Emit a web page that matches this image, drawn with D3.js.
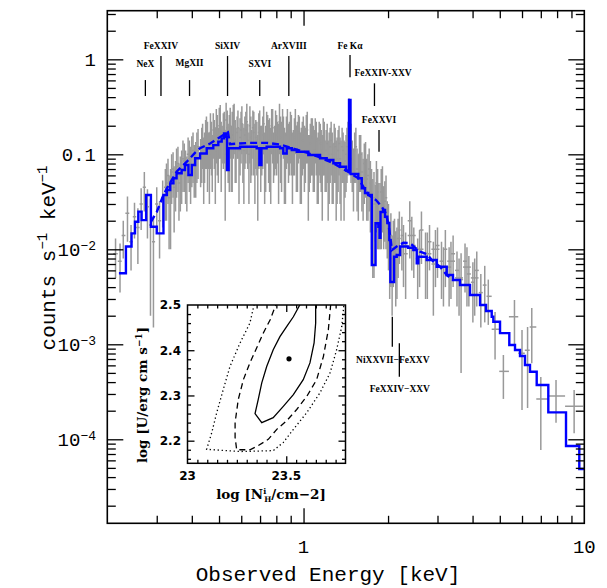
<!DOCTYPE html>
<html lang="en">
<head>
<meta charset="UTF-8">
<title>Observed X-ray spectrum</title>
<script src="https://d3js.org/d3.v7.min.js"></script>
<style>
  body { margin: 0; background: #fff; }
  .data line { stroke: #999; stroke-width: 1.5px; }
  .axis line { stroke: #000; stroke-width: 1.3px; }
  .big { font-family: "Liberation Mono", monospace; fill: #000; }
  .mark { font-family: "Liberation Serif", serif; font-weight: bold; font-size: 9.5px; }
  .inset-num { font-family: "DejaVu Sans", sans-serif; font-weight: bold; font-size: 12px; }
  .inset-lab { font-family: "DejaVu Serif", serif; font-weight: bold; font-size: 13.5px; }
</style>
</head>
<body>
<svg width="607" height="588"></svg>
<script>
// ---- main spectrum ----
const xDomain = [0.2, 10];
const yDomain = [1.305e-5, 3.25];

// best-fit model (solid), bin start energies [keV] and counts s^-1 keV^-1
const modelE = [0.220, 0.233, 0.244, 0.251, 0.258, 0.265, 0.275, 0.286, 0.300, 0.317,
  0.326, 0.335, 0.344, 0.353, 0.368, 0.378, 0.389, 0.400, 0.411, 0.428,
  0.452, 0.477, 0.497, 0.511, 0.521, 0.530, 0.534, 0.541, 0.594, 0.681,
  0.696, 0.708, 0.739, 0.825, 0.847, 0.871, 0.908, 0.946, 1.040, 1.145,
  1.209, 1.277, 1.349, 1.417, 1.452, 1.470, 1.567, 1.612, 1.656, 1.701,
  1.750, 1.805, 1.847, 1.865, 1.880, 1.919, 1.951, 1.988, 2.021, 2.038,
  2.101, 2.147, 2.207, 2.356, 2.460, 2.530, 2.563, 2.746, 2.981, 3.236,
  3.407, 3.608, 3.917, 4.253, 4.467, 4.680, 4.742, 5.010, 5.406, 5.665,
  5.902, 6.148, 6.406, 6.768, 7.444, 8.607, 9.598];
const modelC = [0.0056, 0.0107, 0.0147, 0.0195, 0.0249, 0.0203, 0.0373, 0.0173, 0.0147, 0.0373,
  0.0421, 0.0495, 0.0559, 0.0631, 0.0684, 0.0772, 0.0606, 0.0772, 0.0908, 0.102,
  0.116, 0.125, 0.136, 0.147, 0.166, 0.153, 0.0684, 0.116, 0.120, 0.116,
  0.0772, 0.116, 0.120, 0.116, 0.102, 0.116, 0.111, 0.1065, 0.0983, 0.0908,
  0.0871, 0.0804, 0.0741, 0.0675, 0.373, 0.0620, 0.0559, 0.0439, 0.0391, 0.0373,
  0.00684, 0.0188, 0.0173, 0.0132, 0.0247, 0.0259, 0.0220, 0.0189, 0.0125, 0.00453,
  0.00836, 0.00871, 0.0107, 0.0104, 0.00983, 0.00712, 0.00836, 0.00772, 0.00656, 0.00536,
  0.00475, 0.00421, 0.00330, 0.00259, 0.00224, 0.00195, 0.00173, 0.00131, 0.000983, 0.000871,
  0.000753, 0.000606, 0.000515, 0.000373, 0.000192, 0.0000850, 0.0000487];

// alternative model (dashed)
const dashE = [0.286, 0.300, 0.317, 0.326, 0.353, 0.384, 0.394, 0.411, 0.428, 0.465,
  0.497, 0.518, 0.538, 0.547, 0.645, 0.739, 0.825, 0.920, 1.027, 1.145,
  1.277, 1.417, 1.567, 1.701, 1.812, 1.898, 1.951, 2.004, 2.066, 2.147,
  2.267, 2.394, 2.600, 2.746, 2.900, 3.063, 3.236, 3.407];
const dashC = [0.0194, 0.0247, 0.0373, 0.0439, 0.0656, 0.0836, 0.0908, 0.104, 0.116, 0.130,
  0.148, 0.160, 0.170, 0.128, 0.132, 0.132, 0.127, 0.115, 0.104, 0.0930,
  0.0804, 0.0675, 0.0559, 0.0373, 0.0330, 0.0281, 0.0249, 0.0189, 0.00983, 0.0107,
  0.0117, 0.0116, 0.00943, 0.00892, 0.00741, 0.00656, 0.00536, 0.00475];

// first data set: energy, value, 1-sigma error
const dataE = [
  0.214, 0.222, 0.228, 0.236, 0.243, 0.250, 0.257, 0.264, 0.271, 0.278, 0.285, 0.292, 0.300, 0.307, 0.315,
  0.322, 0.329, 0.336, 0.343, 0.350, 0.357, 0.364, 0.372, 0.380, 0.388, 0.396, 0.404, 0.413, 0.421,
  0.430, 0.437, 0.444, 0.451, 0.458, 0.466, 0.473, 0.481, 0.489, 0.497,
  0.505, 0.513, 0.522, 0.530, 0.539, 0.548, 0.557, 0.566, 0.575, 0.584,
  0.594, 0.603, 0.613, 0.623, 0.633, 0.644, 0.654, 0.665, 0.676, 0.687,
  0.698, 0.710, 0.721, 0.733, 0.745, 0.757, 0.770, 0.782, 0.795, 0.808,
  0.821, 0.835, 0.848, 0.862, 0.876, 0.891, 0.905, 0.920, 0.935, 0.951,
  0.966, 0.982, 0.998, 1.015, 1.031, 1.048, 1.066, 1.083, 1.101, 1.119,
  1.137, 1.156, 1.175, 1.194, 1.214, 1.234, 1.254, 1.275, 1.296, 1.317,
  1.338, 1.360, 1.383, 1.405, 1.428, 1.452,
  1.476, 1.506, 1.536, 1.567, 1.598, 1.630, 1.663, 1.696, 1.730, 1.765, 1.800,
  1.836, 1.873, 1.910, 1.948, 1.987, 2.027, 2.068, 2.109, 2.151, 2.194,
  2.24, 2.31, 2.39, 2.47, 2.55, 2.63, 2.72, 2.81, 2.90, 3.00, 3.10,
  3.20, 3.30, 3.41, 3.52, 3.64, 3.76, 3.88, 4.01, 4.14, 4.28, 4.42,
  4.55, 4.81, 5.15, 5.64, 6.00, 6.28, 6.50, 7.00, 7.93, 9.20];
const dataC = [
  0.009, 0.0075, 0.014, 0.024, 0.012, 0.022, 0.017, 0.030, 0.045, 0.028, 0.018, 0.012, 0.030, 0.020, 0.035,
  0.045, 0.060, 0.040, 0.070, 0.055, 0.080, 0.060, 0.090, 0.070, 0.100, 0.075, 0.110, 0.085, 0.120,
  0.095, 0.14, 0.11, 0.16, 0.12, 0.17, 0.10, 0.15, 0.19, 0.12,
  0.21, 0.14, 0.18, 0.23, 0.13, 0.20, 0.16, 0.22, 0.12, 0.19,
  0.15, 0.21, 0.11, 0.18, 0.14, 0.20, 0.12, 0.17, 0.15, 0.09,
  0.19, 0.13, 0.21, 0.12, 0.17, 0.14, 0.20, 0.11, 0.18, 0.15,
  0.22, 0.13, 0.17, 0.10, 0.19, 0.14, 0.16, 0.12, 0.20, 0.13,
  0.17, 0.11, 0.16, 0.12, 0.18, 0.10, 0.15, 0.12, 0.16, 0.09,
  0.14, 0.11, 0.15, 0.09, 0.13, 0.10, 0.14, 0.08, 0.12, 0.09,
  0.13, 0.08, 0.11, 0.085, 0.12, 0.26,
  0.13, 0.07, 0.12, 0.06, 0.10, 0.055, 0.085, 0.06, 0.05, 0.03, 0.03,
  0.04, 0.03, 0.045, 0.032, 0.02, 0.011, 0.008, 0.013, 0.010, 0.016,
  0.014, 0.009, 0.020, 0.011, 0.008, 0.016, 0.009, 0.012, 0.007, 0.011, 0.0075,
  0.010, 0.0065, 0.009, 0.006, 0.0048, 0.0075, 0.0055, 0.0045, 0.006, 0.0035, 0.0042,
  0.0032, 0.00144, 0.000519, 0.00195, 0.000807, 0.000867, 0.00152, 0.000265, 0.000285, 0.000223];
const dataErr = [
  0.004, 0.004, 0.006, 0.012, 0.006, 0.009, 0.010, 0.014, 0.020, 0.015, 0.016, 0.0105, 0.015, 0.012, 0.018,
  0.025, 0.030, 0.030, 0.035, 0.030, 0.040, 0.035, 0.050, 0.040, 0.050, 0.045, 0.060, 0.050, 0.065,
  0.05, 0.07, 0.06, 0.09, 0.05, 0.10, 0.06, 0.08, 0.11, 0.07,
  0.12, 0.06, 0.10, 0.12, 0.08, 0.11, 0.12, 0.12, 0.07, 0.10,
  0.09, 0.11, 0.08, 0.10, 0.07, 0.12, 0.06, 0.11, 0.08, 0.07,
  0.10, 0.07, 0.11, 0.08, 0.09, 0.10, 0.10, 0.06, 0.11, 0.07,
  0.12, 0.09, 0.08, 0.07, 0.11, 0.08, 0.10, 0.06, 0.10, 0.09,
  0.08, 0.08, 0.09, 0.07, 0.10, 0.06, 0.09, 0.08, 0.08, 0.06,
  0.08, 0.07, 0.09, 0.05, 0.08, 0.07, 0.08, 0.05, 0.07, 0.06,
  0.07, 0.06, 0.06, 0.05, 0.07, 0.13,
  0.08, 0.045, 0.07, 0.04, 0.06, 0.035, 0.05, 0.04, 0.035, 0.025, 0.018,
  0.03, 0.02, 0.03, 0.02, 0.012, 0.008, 0.006, 0.008, 0.007, 0.009,
  0.008, 0.006, 0.012, 0.006, 0.005, 0.009, 0.006, 0.006, 0.005, 0.006, 0.0045,
  0.006, 0.004, 0.005, 0.0035, 0.0043, 0.004, 0.003, 0.0028, 0.0035, 0.002, 0.0025,
  0.0016, 0.00075, 0.000253, 0.00097, 0.000604, 0.000654, 0.00089, 0.000188, 0.000136, 0.000107];

// second data set (interleaved bins)
const data2E = [
  0.325, 0.332, 0.339, 0.346, 0.353, 0.360, 0.368, 0.376, 0.384, 0.392, 0.400, 0.408, 0.417,
  0.434, 0.441, 0.448, 0.455, 0.462, 0.470, 0.477, 0.485, 0.493, 0.501,
  0.509, 0.518, 0.526, 0.535, 0.544, 0.553, 0.562, 0.571, 0.580, 0.589,
  0.599, 0.608, 0.618, 0.628, 0.639, 0.649, 0.660, 0.671, 0.682, 0.693,
  0.704, 0.716, 0.727, 0.739, 0.751, 0.764, 0.776, 0.789, 0.802, 0.815,
  0.828, 0.842, 0.855, 0.869, 0.884, 0.898, 0.913, 0.928, 0.943, 0.959,
  0.974, 0.990, 1.007, 1.023, 1.040, 1.057, 1.075, 1.092, 1.110, 1.128,
  1.147, 1.166, 1.185, 1.204, 1.224, 1.244, 1.265, 1.286, 1.307, 1.328,
  1.349, 1.372, 1.394, 1.417, 1.440,
  1.491, 1.521, 1.551, 1.582, 1.614, 1.646, 1.679, 1.713, 1.747, 1.782,
  1.818, 1.854, 1.891, 1.929, 1.967, 2.007, 2.047, 2.088, 2.130, 2.172,
  2.27, 2.43, 2.59, 2.76, 2.95, 3.15, 3.35, 3.58, 3.82, 4.07];
const data2C = [
  0.05, 0.035, 0.065, 0.045, 0.075, 0.05, 0.07, 0.085, 0.06, 0.09, 0.10, 0.08, 0.11,
  0.12, 0.09, 0.15, 0.13, 0.10, 0.14, 0.18, 0.11, 0.16, 0.20,
  0.13, 0.17, 0.10, 0.19, 0.15, 0.12, 0.21, 0.14, 0.17, 0.11,
  0.18, 0.13, 0.16, 0.22, 0.10, 0.15, 0.19, 0.12, 0.14, 0.17,
  0.12, 0.16, 0.10, 0.18, 0.14, 0.11, 0.19, 0.13, 0.16, 0.12,
  0.15, 0.20, 0.11, 0.16, 0.13, 0.18, 0.10, 0.15, 0.12, 0.17,
  0.10, 0.14, 0.12, 0.17, 0.09, 0.13, 0.15, 0.11, 0.14, 0.10,
  0.13, 0.09, 0.14, 0.11, 0.08, 0.12, 0.10, 0.13, 0.08, 0.11,
  0.09, 0.12, 0.08, 0.10, 0.14,
  0.09, 0.11, 0.07, 0.10, 0.065, 0.08, 0.055, 0.07, 0.04, 0.035,
  0.05, 0.03, 0.04, 0.028, 0.035, 0.018, 0.014, 0.012, 0.009, 0.013,
  0.011, 0.014, 0.010, 0.009, 0.010, 0.0065, 0.0075, 0.005, 0.0065, 0.005];
const data2Err = [
  0.03, 0.025, 0.035, 0.03, 0.04, 0.03, 0.04, 0.045, 0.035, 0.05, 0.055, 0.045, 0.06,
  0.07, 0.06, 0.08, 0.09, 0.07, 0.08, 0.09, 0.08, 0.10, 0.11,
  0.09, 0.10, 0.08, 0.10, 0.11, 0.08, 0.12, 0.09, 0.08, 0.08,
  0.10, 0.08, 0.09, 0.12, 0.07, 0.10, 0.10, 0.09, 0.08, 0.10,
  0.08, 0.09, 0.07, 0.10, 0.09, 0.08, 0.11, 0.07, 0.10, 0.09,
  0.10, 0.10, 0.08, 0.09, 0.08, 0.10, 0.07, 0.09, 0.08, 0.09,
  0.07, 0.08, 0.08, 0.09, 0.07, 0.08, 0.09, 0.07, 0.08, 0.07,
  0.08, 0.07, 0.08, 0.07, 0.06, 0.07, 0.07, 0.08, 0.06, 0.07,
  0.06, 0.07, 0.06, 0.06, 0.08,
  0.05, 0.06, 0.045, 0.06, 0.04, 0.05, 0.035, 0.045, 0.03, 0.03,
  0.035, 0.02, 0.03, 0.018, 0.025, 0.012, 0.01, 0.008, 0.0065, 0.008,
  0.007, 0.008, 0.006, 0.006, 0.006, 0.004, 0.0045, 0.003, 0.004, 0.003];

// identified lines
const lineNames = ["NeX", "FeXXIV", "MgXII", "SiXIV", "SXVI", "ArXVIII", "Fe K\u03b1",
  "FeXXIV-XXV", "FeXXVI", "NiXXVII\u2212FeXXV", "FeXXIV\u2212XXV"];
const lineE = [0.2733, 0.3106, 0.3926, 0.5362, 0.6982, 0.8863, 1.464, 1.789, 1.857, 2.071, 2.194];

const xTickVals = [1, 10];
const xTickText = ["1", "10"];
const yTickVals = [1, 0.1, 1e-2, 1e-3, 1e-4];
const yTickBase = ["1", "0.1", "10", "10", "10"];
const yTickExp = ["", "", "\u22122", "\u22123", "\u22124"];

// ---- inset: confidence contours ----
const c1NH = [23.581, 23.536, 23.502, 23.468, 23.434, 23.401, 23.376, 23.358, 23.342, 23.376, 23.434, 23.485, 23.536, 23.586, 23.620, 23.641, 23.649, 23.649];
const c1U  = [2.510, 2.474, 2.452, 2.430, 2.401, 2.364, 2.328, 2.291, 2.260, 2.240, 2.251, 2.276, 2.302, 2.335, 2.372, 2.416, 2.460, 2.510];
const c2NH = [23.456, 23.418, 23.384, 23.350, 23.316, 23.283, 23.257, 23.241, 23.241, 23.249, 23.316, 23.358, 23.409, 23.452, 23.502, 23.553, 23.604, 23.654, 23.688, 23.713, 23.727];
const c2U  = [2.510, 2.467, 2.438, 2.405, 2.372, 2.335, 2.291, 2.240, 2.207, 2.180, 2.180, 2.189, 2.203, 2.225, 2.244, 2.269, 2.298, 2.335, 2.386, 2.445, 2.510];
const c3NH = [23.342, 23.316, 23.266, 23.215, 23.181, 23.148, 23.123, 23.097, 23.266, 23.434, 23.485, 23.536, 23.604, 23.671, 23.722, 23.755, 23.781, 23.794];
const c3U  = [2.510, 2.460, 2.416, 2.364, 2.313, 2.262, 2.218, 2.181, 2.176, 2.178, 2.196, 2.225, 2.262, 2.306, 2.350, 2.401, 2.452, 2.510];
const bestFit = [23.514, 2.381];
const insetXDomain = [23, 23.8];
const insetYDomain = [2.15, 2.5];
const insetXTicks = [23, 23.5];
const insetYTicks = [2.2, 2.3, 2.4, 2.5];

// ---- layout ----
const F = { left: 107.3, right: 584.3, top: 10.7, bottom: 523.3 };
const I = { left: 187.5, right: 345.5, top: 305, bottom: 463.3 };
// label centre / marker ends in count units, label shift in px
const markLayout = [
  { lab: 0.892, top: 0.605, bot: 0.411, dx: 0 },
  { lab: 1.39, top: 1.083, bot: 0.411, dx: 0 },
  { lab: 0.92, top: 0.605, bot: 0.411, dx: 0 },
  { lab: 1.39, top: 1.083, bot: 0.411, dx: 0 },
  { lab: 0.892, top: 0.605, bot: 0.411, dx: 0 },
  { lab: 1.39, top: 1.083, bot: 0.411, dx: 0 },
  { lab: 1.39, top: 1.11, bot: 0.646, dx: 0 },
  { lab: 0.723, top: 0.559, bot: 0.3224, dx: 8.6 },
  { lab: 0.2297, top: 0.180, bot: 0.1065, dx: 0 },
  { lab: 6.84e-4, top: 1.952e-3, bot: 9.43e-4, dx: 0.5 },
  { lab: 3.44e-4, top: 1.024e-3, bot: 4.56e-4, dx: 0.5 }
];

const svg = d3.select("svg");
const x = d3.scaleLog().domain(xDomain).range([F.left, F.right]);
const y = d3.scaleLog().domain(yDomain).range([F.bottom, F.top]);

const defs = svg.append("defs");
defs.append("clipPath").attr("id", "plotClip").append("rect")
  .attr("x", F.left).attr("y", F.top).attr("width", F.right - F.left).attr("height", F.bottom - F.top);
defs.append("clipPath").attr("id", "insetClip").append("rect")
  .attr("x", I.left).attr("y", I.top).attr("width", I.right - I.left).attr("height", I.bottom - I.top);

const plot = svg.append("g").attr("clip-path", "url(#plotClip)");

// error bars
function drawSet(E, C, Err) {
  const pts = E.map((e, i) => ({ E: e, c: C[i], err: Err[i] }));
  pts.forEach((d, i) => {
    const prev = i > 0 ? pts[i - 1].E : d.E * d.E / pts[i + 1].E;
    const next = i < pts.length - 1 ? pts[i + 1].E : d.E * d.E / pts[i - 1].E;
    d.lo = Math.sqrt(prev * d.E);
    d.hi = Math.sqrt(d.E * next);
  });
  const g = plot.append("g").attr("class", "data");
  g.selectAll("line.v").data(pts).join("line").attr("class", "v")
    .attr("x1", d => x(d.E)).attr("x2", d => x(d.E))
    .attr("y1", d => y(d.c + d.err))
    .attr("y2", d => y(Math.max(d.c - d.err, yDomain[0])));
  g.selectAll("line.h").data(pts).join("line").attr("class", "h")
    .attr("x1", d => x(d.lo)).attr("x2", d => x(d.hi))
    .attr("y1", d => y(d.c)).attr("y2", d => y(d.c));
}
drawSet(dataE, dataC, dataErr);
drawSet(data2E, data2C, data2Err);

// models
const model = modelE.map((e, i) => ({ E: e, c: modelC[i] }));
model.push({ E: xDomain[1], c: modelC[modelC.length - 1] });
const dash = dashE.map((e, i) => ({ E: e, c: dashC[i] }));

plot.append("path").datum(dash)
  .attr("d", d3.line().x(d => x(d.E)).y(d => y(d.c)))
  .attr("fill", "none").attr("stroke", "#0000ff").attr("stroke-width", 2.4)
  .attr("stroke-dasharray", "7,4");
plot.append("path").datum(model)
  .attr("d", d3.line().x(d => x(d.E)).y(d => y(d.c)).curve(d3.curveStepAfter))
  .attr("fill", "none").attr("stroke", "#0000ff").attr("stroke-width", 2.4);

// line identifications
const marks = lineNames.map((n, i) => Object.assign({ name: n, E: lineE[i] }, markLayout[i]));
const mg = svg.append("g");
mg.selectAll("line").data(marks).join("line")
  .attr("x1", d => x(d.E)).attr("x2", d => x(d.E))
  .attr("y1", d => y(d.top)).attr("y2", d => y(d.bot))
  .attr("stroke", "#000").attr("stroke-width", 1.3);
mg.selectAll("text").data(marks).join("text")
  .attr("class", "mark")
  .attr("x", d => x(d.E) + d.dx).attr("y", d => y(d.lab))
  .attr("dy", "0.35em").attr("text-anchor", "middle")
  .text(d => d.name);

// ticks
function logMinors(dom) {
  const out = [];
  for (let k = Math.floor(Math.log10(dom[0])); k <= Math.ceil(Math.log10(dom[1])); k++) {
    for (let m = 2; m <= 9; m++) {
      const v = m * Math.pow(10, k);
      if (v > dom[0] && v < dom[1]) out.push(v);
    }
  }
  return out;
}
const xMinor = logMinors(xDomain), yMinor = logMinors(yDomain);
const yMajor = yTickVals.filter(v => v > yDomain[0] && v < yDomain[1]);

function ticks(axisFn, scale, vals, len, tx, ty) {
  const g = svg.append("g").attr("class", "axis").attr("transform", `translate(${tx},${ty})`)
    .call(axisFn(scale).tickValues(vals).tickSize(-len).tickFormat(""));
  g.select(".domain").remove();
  return g;
}
ticks(d3.axisBottom, x, xMinor, 7.5, 0, F.bottom);
ticks(d3.axisBottom, x, [1], 15, 0, F.bottom);
ticks(d3.axisTop, x, xMinor, 7.5, 0, F.top);
ticks(d3.axisTop, x, [1], 15, 0, F.top);
ticks(d3.axisLeft, y, yMinor, 8.5, F.left, 0);
ticks(d3.axisLeft, y, yMajor, 16, F.left, 0);
ticks(d3.axisRight, y, yMinor, 8.5, F.right, 0);
ticks(d3.axisRight, y, yMajor, 16, F.right, 0);

svg.append("rect").attr("x", F.left).attr("y", F.top)
  .attr("width", F.right - F.left).attr("height", F.bottom - F.top)
  .attr("fill", "none").attr("stroke", "#000").attr("stroke-width", 1.6);

// tick labels
svg.selectAll("text.xt").data(xTickVals).join("text").attr("class", "big xt")
  .attr("x", d => x(d)).attr("y", 553).attr("text-anchor", "middle")
  .attr("font-size", 19).text((d, i) => xTickText[i]);

const yt = svg.selectAll("text.yt").data(yTickVals).join("text").attr("class", "big yt")
  .attr("x", 96).attr("y", d => y(d)).attr("dy", "0.35em")
  .attr("text-anchor", "end").attr("font-size", 19);
yt.append("tspan").text((d, i) => yTickBase[i]);
yt.append("tspan").attr("dy", "-0.45em").attr("font-size", 13).text((d, i) => yTickExp[i]);

// axis titles
svg.append("text").attr("class", "big").attr("x", 328).attr("y", 581)
  .attr("text-anchor", "middle").attr("font-size", 21).text("Observed Energy [keV]");

const yl = svg.append("text").attr("class", "big")
  .attr("transform", "translate(55,258) rotate(-90)")
  .attr("text-anchor", "middle").attr("font-size", 21);
yl.append("tspan").text("counts s");
yl.append("tspan").attr("dy", -8).attr("font-size", 14).text("\u22121");
yl.append("tspan").attr("dy", 8).text(" keV");
yl.append("tspan").attr("dy", -8).attr("font-size", 14).text("\u22121");

// ---- inset ----
const ix = d3.scaleLinear().domain(insetXDomain).range([I.left, I.right]);
const iy = d3.scaleLinear().domain(insetYDomain).range([I.bottom, I.top]);

svg.append("rect").attr("x", I.left).attr("y", I.top)
  .attr("width", I.right - I.left).attr("height", I.bottom - I.top).attr("fill", "#fff");

const ig = svg.append("g").attr("clip-path", "url(#insetClip)");
const cLine = d3.line().x(d => ix(d[0])).y(d => iy(d[1]));
const contours = [
  { nh: c1NH, u: c1U, dash: null },
  { nh: c2NH, u: c2U, dash: "6,4" },
  { nh: c3NH, u: c3U, dash: "1.3,2.7" }
];
contours.forEach(c => {
  ig.append("path").datum(c.nh.map((v, i) => [v, c.u[i]]))
    .attr("d", cLine).attr("fill", "none").attr("stroke", "#000").attr("stroke-width", 1.3)
    .attr("stroke-dasharray", c.dash);
});
ig.append("circle").attr("cx", ix(bestFit[0])).attr("cy", iy(bestFit[1])).attr("r", 2.6).attr("fill", "#000");

const ixMinor = d3.range(23.05, 23.8, 0.05).filter(v => Math.abs(v - 23.5) > 1e-6);
const iyMinor = d3.range(2.16, 2.5, 0.02).filter(v => Math.abs(v * 10 - Math.round(v * 10)) > 1e-6);
const iyMajor = [2.2, 2.3, 2.4];
ticks(d3.axisBottom, ix, ixMinor, 3.5, 0, I.bottom);
ticks(d3.axisBottom, ix, [23.5], 7, 0, I.bottom);
ticks(d3.axisTop, ix, ixMinor, 3.5, 0, I.top);
ticks(d3.axisTop, ix, [23.5], 7, 0, I.top);
ticks(d3.axisLeft, iy, iyMinor, 3.5, I.left, 0);
ticks(d3.axisLeft, iy, iyMajor, 7, I.left, 0);
ticks(d3.axisRight, iy, iyMinor, 3.5, I.right, 0);
ticks(d3.axisRight, iy, iyMajor, 7, I.right, 0);

svg.append("rect").attr("x", I.left).attr("y", I.top)
  .attr("width", I.right - I.left).attr("height", I.bottom - I.top)
  .attr("fill", "none").attr("stroke", "#000").attr("stroke-width", 1.5);

svg.selectAll("text.ixt").data(insetXTicks).join("text").attr("class", "inset-num ixt")
  .attr("x", d => ix(d)).attr("y", 480).attr("text-anchor", "middle").text(d => d);
svg.selectAll("text.iyt").data(insetYTicks).join("text").attr("class", "inset-num iyt")
  .attr("x", 181).attr("y", d => iy(d)).attr("dy", "0.36em").attr("text-anchor", "end")
  .text(d => d.toFixed(1));

const ixl = svg.append("text").attr("class", "inset-lab")
  .attr("x", 271).attr("y", 499).attr("text-anchor", "middle");
ixl.append("tspan").text("log [N");
ixl.append("tspan").attr("dy", -5).attr("font-size", 8).text("i");
ixl.append("tspan").attr("dx", -2).attr("dy", 8).attr("font-size", 7.5).text("H");
ixl.append("tspan").attr("dy", -3).text("/cm\u22122]");

const iyl = svg.append("text").attr("class", "inset-lab")
  .attr("transform", "translate(147,395) rotate(-90)").attr("text-anchor", "middle");
iyl.append("tspan").text("log [U/erg cm s");
iyl.append("tspan").attr("dy", -5).attr("font-size", 9).text("\u22121");
iyl.append("tspan").attr("dy", 5).text("]");
</script>
</body>
</html>
